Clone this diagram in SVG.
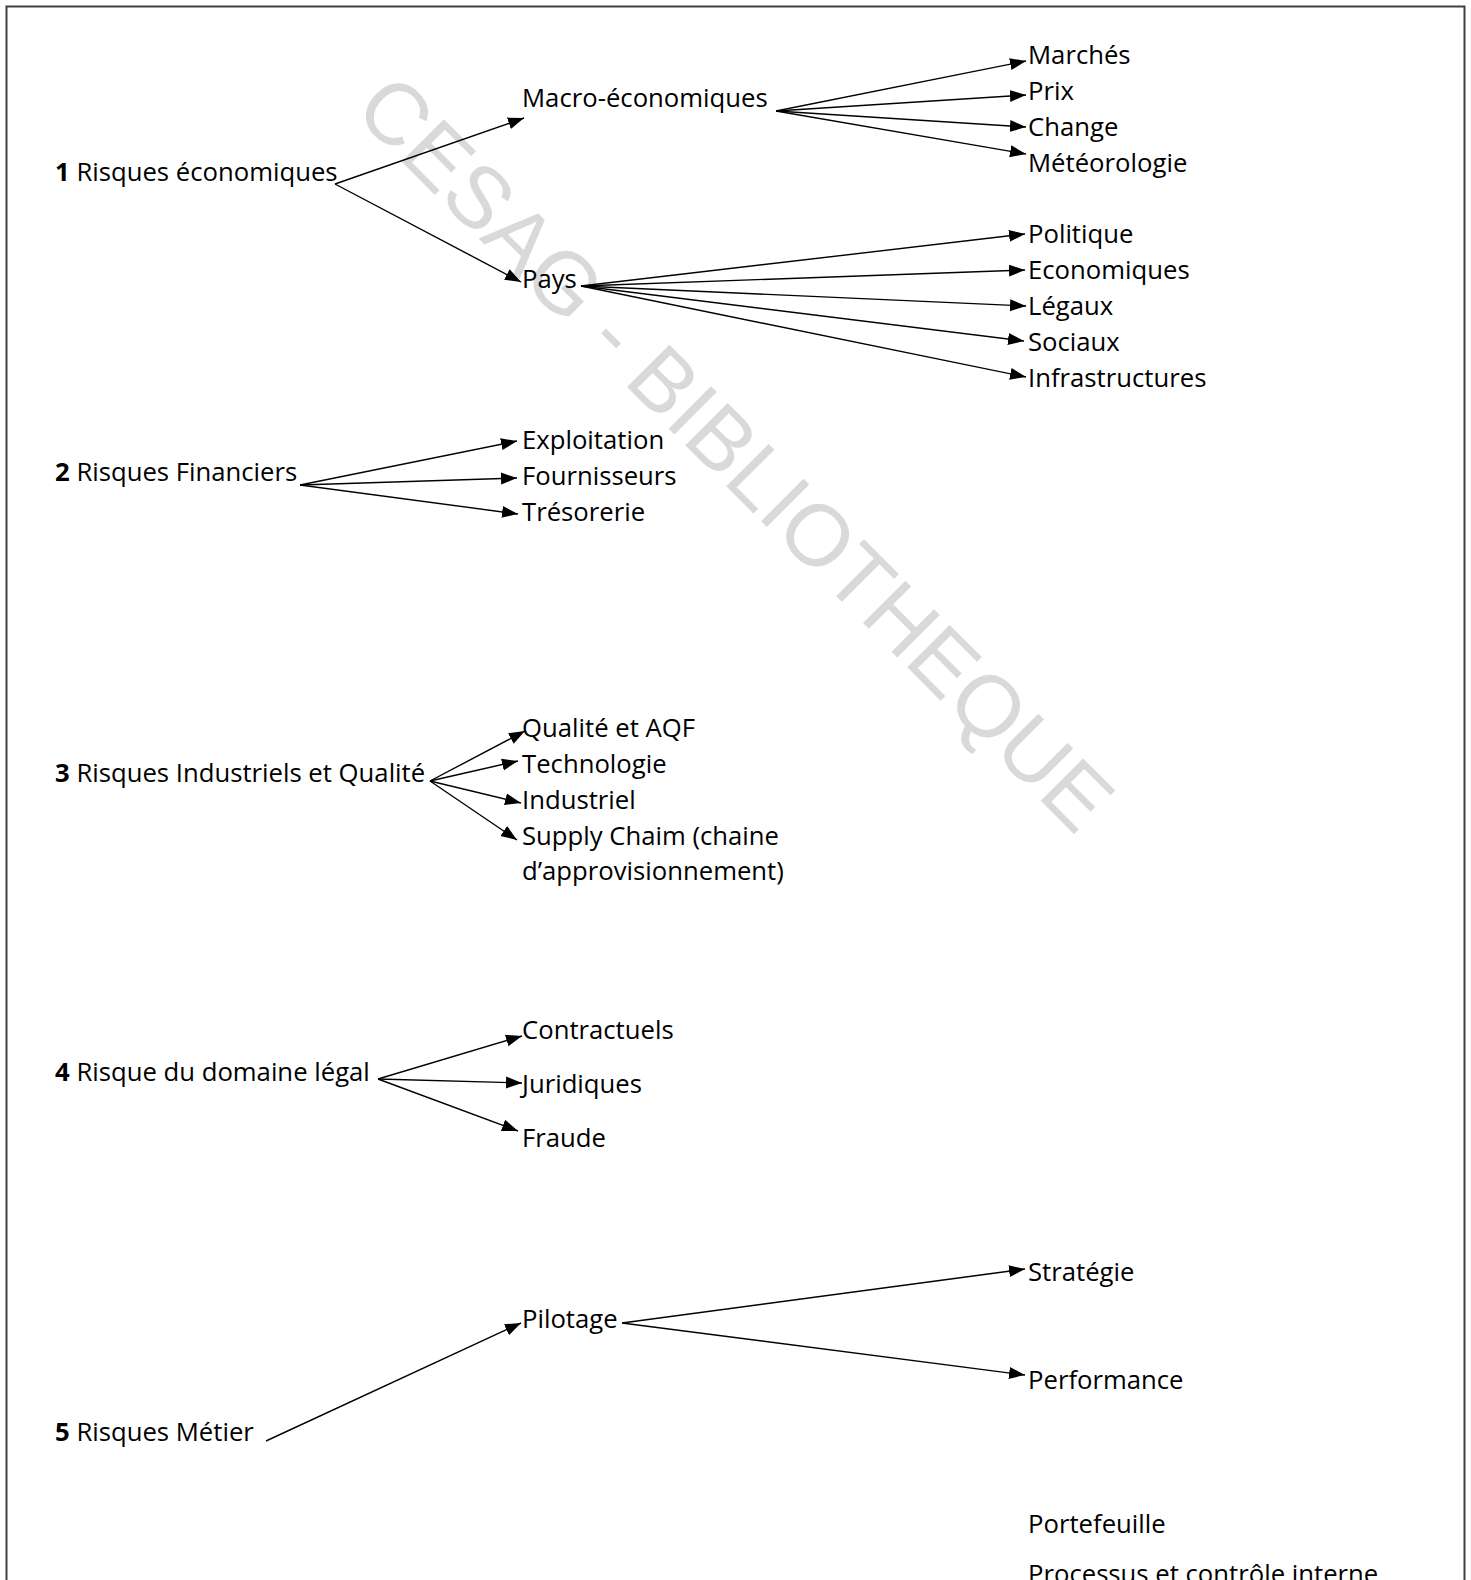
<svg xmlns="http://www.w3.org/2000/svg" width="1471" height="1580" viewBox="0 0 1471 1580">
<style>
text{font-family:"Open Sans","Liberation Sans",sans-serif;font-size:25.7px;fill:#000}
.b{font-weight:bold}
.c line{stroke:#000;stroke-width:1.4;marker-end:url(#ah)}
.wm{font-family:"Liberation Sans",sans-serif;font-size:87px;fill:#d9d9d9}
</style>
<defs>
<marker id="ah" markerUnits="userSpaceOnUse" markerWidth="18" markerHeight="14" refX="16" refY="7" orient="auto">
<path d="M0,1 L16,7 L0,13 z" fill="#000"/>
</marker>
</defs>
<rect width="1471" height="1580" fill="#fff"/>
<path d="M6.5,1585 V6.5 H1464.5 V1585" fill="none" stroke="#404040" stroke-width="2"/>
<text class="wm" x="352" y="112" transform="rotate(45 352 112)">CESAG - BIBLIOTHEQUE</text>
<g class="c" id="connectors">
<line x1="335" y1="184" x2="524" y2="118"/>
<line x1="335" y1="184" x2="521" y2="282"/>
<line x1="776" y1="111" x2="1026" y2="61"/>
<line x1="776" y1="111" x2="1026" y2="95"/>
<line x1="776" y1="111" x2="1026" y2="127"/>
<line x1="776" y1="111" x2="1026" y2="154"/>
<line x1="581" y1="286" x2="1025" y2="234"/>
<line x1="581" y1="286" x2="1025" y2="270"/>
<line x1="581" y1="286" x2="1026" y2="306"/>
<line x1="581" y1="286" x2="1024" y2="341"/>
<line x1="581" y1="286" x2="1026" y2="377"/>
<line x1="300" y1="485" x2="517" y2="441"/>
<line x1="300" y1="485" x2="517" y2="478"/>
<line x1="300" y1="485" x2="518" y2="514"/>
<line x1="430" y1="781" x2="525" y2="731"/>
<line x1="430" y1="781" x2="518" y2="761"/>
<line x1="430" y1="781" x2="521" y2="803"/>
<line x1="430" y1="781" x2="517" y2="840"/>
<line x1="378" y1="1079" x2="522" y2="1036"/>
<line x1="378" y1="1079" x2="522" y2="1083"/>
<line x1="378" y1="1079" x2="518" y2="1131"/>
<line x1="266" y1="1441" x2="521" y2="1323"/>
<line x1="622" y1="1323" x2="1025" y2="1269"/>
<line x1="622" y1="1323" x2="1025" y2="1375"/>
</g>
<g id="n1"><text x="55" y="181"><tspan class="b">1</tspan> Risques économiques</text></g>
<g id="n-macro"><text x="522" y="107">Macro-économiques</text></g>
<g id="n-pays"><text x="522" y="288">Pays</text></g>
<g id="n-marches"><text x="1028" y="64">Marchés</text></g>
<g id="n-prix"><text x="1028" y="100">Prix</text></g>
<g id="n-change"><text x="1028" y="136">Change</text></g>
<g id="n-meteo"><text x="1028" y="172">Météorologie</text></g>
<g id="n-politique"><text x="1028" y="243">Politique</text></g>
<g id="n-eco"><text x="1028" y="279">Economiques</text></g>
<g id="n-legaux"><text x="1028" y="315">Légaux</text></g>
<g id="n-sociaux"><text x="1028" y="351">Sociaux</text></g>
<g id="n-infra"><text x="1028" y="387">Infrastructures</text></g>
<g id="n2"><text x="55" y="481"><tspan class="b">2</tspan> Risques Financiers</text></g>
<g id="n-exploit"><text x="522" y="449">Exploitation</text></g>
<g id="n-fourn"><text x="522" y="485">Fournisseurs</text></g>
<g id="n-treso"><text x="522" y="521">Trésorerie</text></g>
<g id="n3"><text x="55" y="782"><tspan class="b">3</tspan> Risques Industriels et Qualité</text></g>
<g id="n-qualite"><text x="522" y="737">Qualité et AQF</text></g>
<g id="n-techno"><text x="522" y="773">Technologie</text></g>
<g id="n-indus"><text x="522" y="809">Industriel</text></g>
<g id="n-supply"><text x="522" y="845">Supply Chaim (chaine</text><text x="522" y="880">d’approvisionnement)</text></g>
<g id="n4"><text x="55" y="1081"><tspan class="b">4</tspan> Risque du domaine légal</text></g>
<g id="n-contract"><text x="522" y="1039">Contractuels</text></g>
<g id="n-jurid"><text x="522" y="1093">Juridiques</text></g>
<g id="n-fraude"><text x="522" y="1147">Fraude</text></g>
<g id="n5"><text x="55" y="1441"><tspan class="b">5</tspan> Risques Métier</text></g>
<g id="n-pilotage"><text x="522" y="1328">Pilotage</text></g>
<g id="n-strategie"><text x="1028" y="1281">Stratégie</text></g>
<g id="n-perf"><text x="1028" y="1389">Performance</text></g>
<g id="n-portef"><text x="1028" y="1533">Portefeuille</text></g>
<g id="n-process"><text x="1028" y="1583">Processus et contrôle interne</text></g>
</svg>
